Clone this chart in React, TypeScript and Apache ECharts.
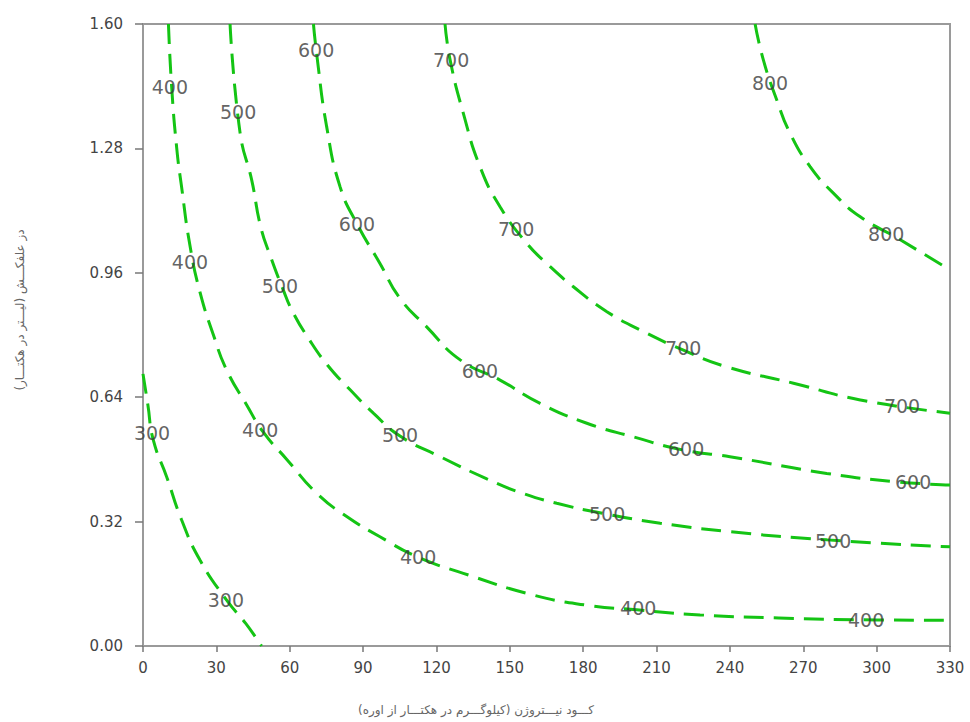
import React, { useEffect, useRef } from "react";
import * as echarts from "echarts";

// Yield contours: [nitrogen (kg/ha), herbicide dose (L/ha)]
const contour300: number[][] = [
  [0, 0.7], [2, 0.62], [4.2, 0.53], [9.7, 0.435], [15.8, 0.324],
  [23.3, 0.221], [34.2, 0.118], [42, 0.058], [48.5, 0],
];
const contour400: number[][] = [
  [10.4, 1.6], [11.7, 1.44], [13.8, 1.28], [15.8, 1.18], [19.2, 1.03],
  [23.3, 0.91], [28.8, 0.8], [34.2, 0.71], [42.4, 0.62], [49.2, 0.55],
  [58.8, 0.48], [71, 0.393], [83.3, 0.333], [96.9, 0.281], [111.9, 0.23],
  [131, 0.187], [159.6, 0.131], [181.5, 0.105], [201.9, 0.093],
  [227.8, 0.08], [260, 0.072], [300, 0.067], [330, 0.066],
];
const contour500: number[][] = [
  [35.6, 1.6], [39.7, 1.32], [44.5, 1.197], [48.1, 1.079], [52.2, 1.001],
  [57.1, 0.92], [61.2, 0.86], [67.6, 0.792], [75.4, 0.723], [84.7, 0.659],
  [94.2, 0.599], [105.1, 0.54], [121.5, 0.487], [140.6, 0.43],
  [154.2, 0.395], [169.2, 0.367], [188.3, 0.341], [211.5, 0.316],
  [240, 0.294], [279.6, 0.273], [330, 0.255],
];
const contour600: number[][] = [
  [69.7, 1.6], [71, 1.524], [75.1, 1.336], [80.6, 1.181], [87.4, 1.087],
  [96.9, 0.984], [105.1, 0.894], [116, 0.821], [129.7, 0.736],
  [146, 0.684], [162.4, 0.624], [181.5, 0.573], [200.5, 0.538],
  [221, 0.504], [240, 0.487], [279.6, 0.444], [306.9, 0.423], [330, 0.414],
];
const contour700: number[][] = [
  [123.5, 1.6], [125.6, 1.507], [131, 1.37], [137.8, 1.233], [146, 1.13],
  [156.9, 1.036], [165.1, 0.984], [176, 0.924], [189.7, 0.86],
  [203.3, 0.813], [221, 0.761], [238.7, 0.718], [266, 0.676],
  [293.3, 0.633], [330, 0.599],
];
const contour800: number[][] = [
  [250.3, 1.6], [253.7, 1.507], [259.2, 1.404], [264.6, 1.319],
  [272.8, 1.233], [282.3, 1.165], [293.3, 1.104], [308.3, 1.05], [330, 0.967],
];

const levels = [300, 400, 500, 600, 700, 800];
const contours = [contour300, contour400, contour500, contour600, contour700, contour800];

// Where each contour carries its value label
const labels300: number[][] = [[3.7, 0.548], [33.9, 0.118]];
const labels400: number[][] = [
  [11, 1.438], [19.2, 0.988], [47.9, 0.556], [112.5, 0.229], [202.5, 0.098], [295.7, 0.067],
];
const labels500: number[][] = [
  [38.9, 1.374], [56, 0.926], [105.1, 0.543], [189.8, 0.34], [282.2, 0.27],
];
const labels600: number[][] = [
  [70.8, 1.533], [87.5, 1.086], [137.8, 0.707], [222.1, 0.507], [314.9, 0.422],
];
const labels700: number[][] = [
  [126, 1.507], [152.6, 1.073], [220.9, 0.767], [310.4, 0.617],
];
const labels800: number[][] = [[256.4, 1.448], [303.9, 1.06]];
const labelSets = [labels300, labels400, labels500, labels600, labels700, labels800];

const xName = "کـــود نیـــتروژن (کیلوگـــرم در هکتـــار از اوره)";
const yName = "دز علفکـــش (لیـــتر در هکتـــار)";

const LINE_COLOR = "#14c414";
const AXIS_COLOR = "#9a9a9a";
const TEXT_COLOR = "#444";

export default function App() {
  const ref = useRef<HTMLDivElement>(null);

  useEffect(() => {
    if (!ref.current) return;
    const chart = echarts.init(ref.current, null, { renderer: "svg" });

    const lineSeries = contours.map((pts, i) => ({
      name: String(levels[i]),
      type: "line",
      data: pts,
      smooth: 0.5,
      showSymbol: false,
      symbol: "none",
      lineStyle: { color: LINE_COLOR, width: 3, type: [20, 10] },
      z: 2,
    }));

    const labelData: (number | string)[][] = [];
    labelSets.forEach((set, i) => {
      set.forEach((p) => labelData.push([p[0], p[1], levels[i]]));
    });

    const labelSeries = {
      type: "scatter",
      data: labelData,
      symbolSize: 1,
      itemStyle: { color: "rgba(0,0,0,0)" },
      label: {
        show: true,
        position: "inside",
        formatter: (p: any) => String(p.value[2]),
        fontFamily: "DejaVu Sans",
        fontSize: 19,
        color: "#3a3a3a",
      },
      z: 3,
    };

    chart.setOption({
      animation: false,
      backgroundColor: "#fff",
      grid: {
        left: 143,
        right: 20,
        top: 24,
        bottom: 76,
        show: true,
        borderColor: AXIS_COLOR,
        borderWidth: 2,
      },
      xAxis: {
        type: "value",
        min: 0,
        max: 330,
        interval: 30,
        splitLine: { show: false },
        axisLine: { show: true, lineStyle: { color: AXIS_COLOR, width: 2 } },
        axisTick: { show: true, length: 6, lineStyle: { color: "#777", width: 1.5 } },
        axisLabel: {
          margin: 14,
          fontFamily: "DejaVu Sans",
          fontSize: 15,
          color: TEXT_COLOR,
        },
      },
      yAxis: {
        type: "value",
        min: 0,
        max: 1.6,
        interval: 0.32,
        splitLine: { show: false },
        axisLine: { show: true, lineStyle: { color: AXIS_COLOR, width: 2 } },
        axisTick: { show: true, length: 8, lineStyle: { color: "#777", width: 1.5 } },
        axisLabel: {
          margin: 20,
          fontFamily: "DejaVu Sans",
          fontSize: 15,
          color: TEXT_COLOR,
          formatter: (v: number) => v.toFixed(2),
        },
      },
      graphic: [
        {
          type: "text",
          x: 476,
          y: 710,
          style: {
            text: xName,
            fontFamily: "DejaVu Sans",
            fontSize: 12,
            fill: "#666",
            align: "center",
            verticalAlign: "middle",
          },
        },
        {
          type: "text",
          x: 20,
          y: 310,
          rotation: Math.PI / 2,
          style: {
            text: yName,
            fontFamily: "DejaVu Sans",
            fontSize: 12,
            fill: "#666",
            align: "center",
            verticalAlign: "middle",
          },
        },
      ],
      series: [...lineSeries, labelSeries],
    });

    return () => chart.dispose();
  }, []);

  return (
    <div
      ref={ref}
      style={{ position: "fixed", left: 0, top: 0, width: 970, height: 722 }}
    />
  );
}
